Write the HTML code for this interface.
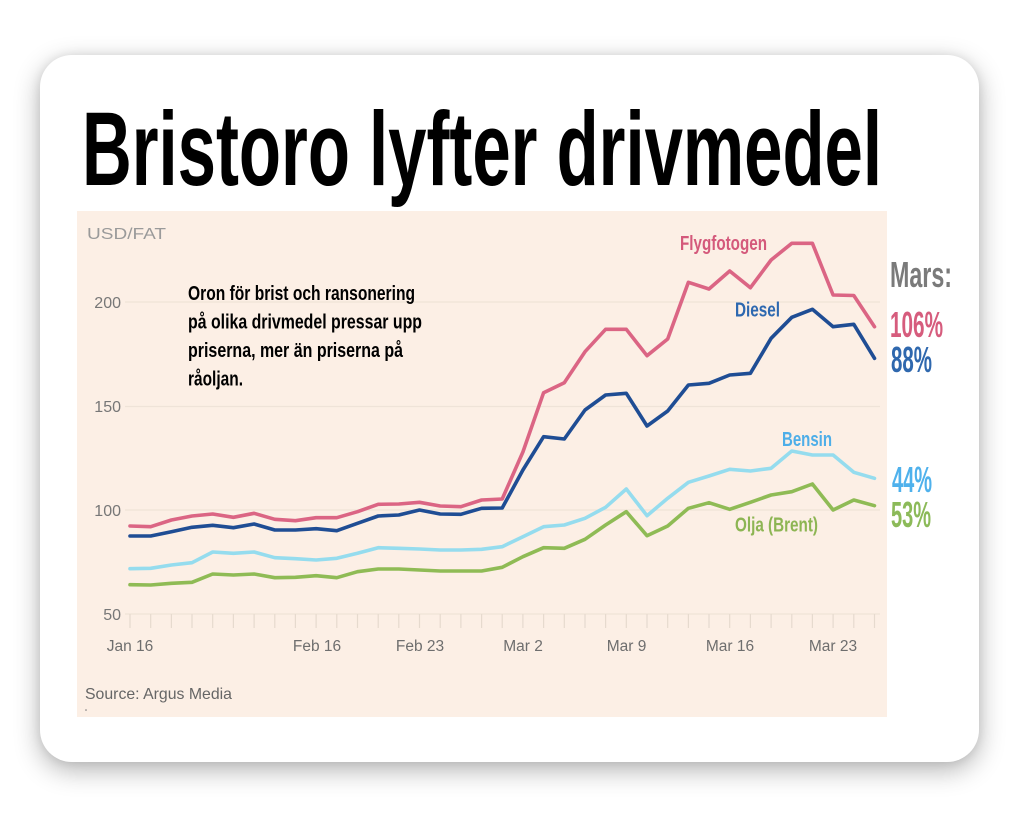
<!DOCTYPE html>
<html>
<head>
<meta charset="utf-8">
<style>
  html,body{margin:0;padding:0;background:#ffffff;}
  body{width:1024px;height:819px;position:relative;overflow:hidden;font-family:"Liberation Sans",sans-serif;}
  .card{position:absolute;left:40px;top:55px;width:939px;height:707px;border-radius:32px;background:#fff;
        box-shadow:0 8px 26px rgba(0,0,0,0.30), 0 0 10px rgba(0,0,0,0.08);}
  svg{position:absolute;left:0;top:0;}
</style>
</head>
<body>
<div class="card"></div>
<svg width="1024" height="819" viewBox="0 0 1024 819" xmlns="http://www.w3.org/2000/svg">
  <!-- Title -->
  <text x="82" y="185" font-family="Liberation Sans, sans-serif" font-weight="bold" font-size="105" fill="#000" textLength="800" lengthAdjust="spacingAndGlyphs">Bristoro lyfter drivmedel</text>

  <!-- Chart background -->
  <rect x="77" y="211" width="810" height="506" fill="#fcefe5"/>

  <!-- Gridlines -->
  <g stroke="#efe3d8" stroke-width="1.2">
    <line x1="125" y1="302" x2="880" y2="302"/>
    <line x1="125" y1="406.5" x2="880" y2="406.5"/>
    <line x1="125" y1="510" x2="880" y2="510"/>
    <line x1="125" y1="614" x2="880" y2="614"/>
  </g>
  <!-- Ticks -->
  <g stroke="#e6dace" stroke-width="1.2">
    <line x1="130" y1="614" x2="130" y2="628"/><line x1="150.7" y1="614" x2="150.7" y2="628"/>
    <line x1="171.4" y1="614" x2="171.4" y2="628"/><line x1="192" y1="614" x2="192" y2="628"/>
    <line x1="212.7" y1="614" x2="212.7" y2="628"/><line x1="233.4" y1="614" x2="233.4" y2="628"/>
    <line x1="254.1" y1="614" x2="254.1" y2="628"/><line x1="274.8" y1="614" x2="274.8" y2="628"/>
    <line x1="295.4" y1="614" x2="295.4" y2="628"/><line x1="316.1" y1="614" x2="316.1" y2="628"/>
    <line x1="336.8" y1="614" x2="336.8" y2="628"/><line x1="357.5" y1="614" x2="357.5" y2="628"/>
    <line x1="378.2" y1="614" x2="378.2" y2="628"/><line x1="398.8" y1="614" x2="398.8" y2="628"/>
    <line x1="419.5" y1="614" x2="419.5" y2="628"/><line x1="440.2" y1="614" x2="440.2" y2="628"/>
    <line x1="460.9" y1="614" x2="460.9" y2="628"/><line x1="481.6" y1="614" x2="481.6" y2="628"/>
    <line x1="502.2" y1="614" x2="502.2" y2="628"/><line x1="522.9" y1="614" x2="522.9" y2="628"/>
    <line x1="543.6" y1="614" x2="543.6" y2="628"/><line x1="564.3" y1="614" x2="564.3" y2="628"/>
    <line x1="585" y1="614" x2="585" y2="628"/><line x1="605.6" y1="614" x2="605.6" y2="628"/>
    <line x1="626.3" y1="614" x2="626.3" y2="628"/><line x1="647" y1="614" x2="647" y2="628"/>
    <line x1="667.7" y1="614" x2="667.7" y2="628"/><line x1="688.4" y1="614" x2="688.4" y2="628"/>
    <line x1="709" y1="614" x2="709" y2="628"/><line x1="729.7" y1="614" x2="729.7" y2="628"/>
    <line x1="750.4" y1="614" x2="750.4" y2="628"/><line x1="771.1" y1="614" x2="771.1" y2="628"/>
    <line x1="791.8" y1="614" x2="791.8" y2="628"/><line x1="812.4" y1="614" x2="812.4" y2="628"/>
    <line x1="833.1" y1="614" x2="833.1" y2="628"/><line x1="853.8" y1="614" x2="853.8" y2="628"/>
    <line x1="874.5" y1="614" x2="874.5" y2="628"/>
  </g>

  <!-- Y axis labels -->
  <text x="87" y="239" font-family="Liberation Sans, sans-serif" font-size="16" fill="#9a9a9a" textLength="79" lengthAdjust="spacingAndGlyphs">USD/FAT</text>
  <g font-family="Liberation Sans, sans-serif" font-size="16" fill="#777" text-anchor="end">
    <text x="121" y="308">200</text>
    <text x="121" y="412">150</text>
    <text x="121" y="516">100</text>
    <text x="121" y="620">50</text>
  </g>
  <!-- X axis labels -->
  <g font-family="Liberation Sans, sans-serif" font-size="15.5" fill="#6e6e6e" text-anchor="middle">
    <text x="130" y="651">Jan 16</text>
    <text x="317" y="651">Feb 16</text>
    <text x="420" y="651">Feb 23</text>
    <text x="523" y="651">Mar 2</text>
    <text x="626.5" y="651">Mar 9</text>
    <text x="730" y="651">Mar 16</text>
    <text x="833" y="651">Mar 23</text>
  </g>

  <!-- Source -->
  <text x="85" y="699" font-family="Liberation Sans, sans-serif" font-size="16" fill="#666" textLength="147" lengthAdjust="spacingAndGlyphs">Source: Argus Media</text>
  <circle cx="86" cy="710" r="0.8" fill="#777"/>

  <!-- Series -->
  <g fill="none" stroke-width="3.6" stroke-linejoin="round" stroke-linecap="round">
    <polyline stroke="#95dcee" points="130,568.7 150.7,568.3 171.4,565 192,562.7 212.7,552 233.4,553.3 254.1,552 274.8,557.7 295.4,558.7 316.1,560 336.8,558.3 357.5,553.3 378.2,547.7 398.8,548.3 419.5,549 440.2,550 460.9,550 481.6,549.3 502.2,546.7 522.9,536.7 543.6,526.7 564.3,525 585,518.3 605.6,507.3 626.3,489 647,515.7 667.7,498.3 688.4,482.3 709,476 729.7,469.3 750.4,471 771.1,468.3 791.8,451 812.4,455 833.1,455 853.8,472.3 874.5,478.3"/>
    <polyline stroke="#8fbb55" points="130,584.7 150.7,585 171.4,583.3 192,582.3 212.7,574 233.4,575 254.1,574 274.8,577.7 295.4,577.3 316.1,575.7 336.8,577.7 357.5,571.7 378.2,569 398.8,569 419.5,570 440.2,571 460.9,571 481.6,571 502.2,567.3 522.9,556.7 543.6,547.7 564.3,548.3 585,539.3 605.6,525 626.3,511.7 647,535.7 667.7,526 688.4,508.3 709,502.7 729.7,509.3 750.4,502.3 771.1,495 791.8,491.7 812.4,484 833.1,510 853.8,500 874.5,505.7"/>
    <polyline stroke="#db6584" points="130,526 150.7,526.7 171.4,520 192,516 212.7,514 233.4,517.3 254.1,513.3 274.8,519.3 295.4,520.7 316.1,517.7 336.8,517.7 357.5,511.7 378.2,504.3 398.8,504 419.5,502.3 440.2,506 460.9,506.7 481.6,500 502.2,499 522.9,452 543.6,392.7 564.3,382.7 585,351.7 605.6,329.3 626.3,329.3 647,355.7 667.7,339 688.4,282.3 709,289 729.7,271 750.4,287.7 771.1,260 791.8,243.3 812.4,243.3 833.1,295 853.8,295.5 874.5,326.7"/>
    <polyline stroke="#1f4d94" points="130,536 150.7,536 171.4,531.7 192,527.3 212.7,525.3 233.4,527.7 254.1,524 274.8,530 295.4,530 316.1,528.7 336.8,530.7 357.5,523.3 378.2,516 398.8,515 419.5,510 440.2,514 460.9,514.3 481.6,508.3 502.2,508 522.9,470 543.6,436.7 564.3,439 585,410 605.6,395 626.3,393.3 647,426 667.7,411 688.4,385 709,383.3 729.7,375 750.4,373.3 771.1,338.3 791.8,317.3 812.4,309.3 833.1,326.7 853.8,324.3 874.5,358.3"/>
  </g>

  <!-- Series labels -->
  <g font-family="Liberation Sans, sans-serif" font-weight="bold" font-size="20" lengthAdjust="spacingAndGlyphs">
    <text x="680" y="250" fill="#d4597b" textLength="87" lengthAdjust="spacingAndGlyphs">Flygfotogen</text>
    <text x="735" y="316.5" fill="#2d68b0" textLength="45" lengthAdjust="spacingAndGlyphs">Diesel</text>
    <text x="782" y="446" fill="#4eaee8" textLength="50" lengthAdjust="spacingAndGlyphs">Bensin</text>
    <text x="735" y="531.5" fill="#8db553" textLength="83" lengthAdjust="spacingAndGlyphs">Olja (Brent)</text>
  </g>

  <!-- Annotation -->
  <g font-family="Liberation Sans, sans-serif" font-weight="bold" font-size="20" fill="#000">
    <text x="188" y="300" textLength="227" lengthAdjust="spacingAndGlyphs">Oron för brist och ransonering</text>
    <text x="188" y="328.5" textLength="234" lengthAdjust="spacingAndGlyphs">på olika drivmedel pressar upp</text>
    <text x="188" y="357" textLength="215" lengthAdjust="spacingAndGlyphs">priserna, mer än priserna på</text>
    <text x="188" y="385.5" textLength="55" lengthAdjust="spacingAndGlyphs">råoljan.</text>
  </g>

  <!-- Right labels -->
  <g font-family="Liberation Sans, sans-serif" font-weight="bold" font-size="36">
    <text x="890" y="287" fill="#7a7a7a" textLength="62" lengthAdjust="spacingAndGlyphs">Mars:</text>
    <text x="890" y="337" fill="#d65c7d" textLength="53" lengthAdjust="spacingAndGlyphs">106%</text>
    <text x="891" y="372" fill="#2f68ae" textLength="41" lengthAdjust="spacingAndGlyphs">88%</text>
    <text x="892" y="492" fill="#4fb1ec" textLength="40" lengthAdjust="spacingAndGlyphs">44%</text>
    <text x="891" y="527" fill="#8cba59" textLength="40" lengthAdjust="spacingAndGlyphs">53%</text>
  </g>
</svg>
</body>
</html>
